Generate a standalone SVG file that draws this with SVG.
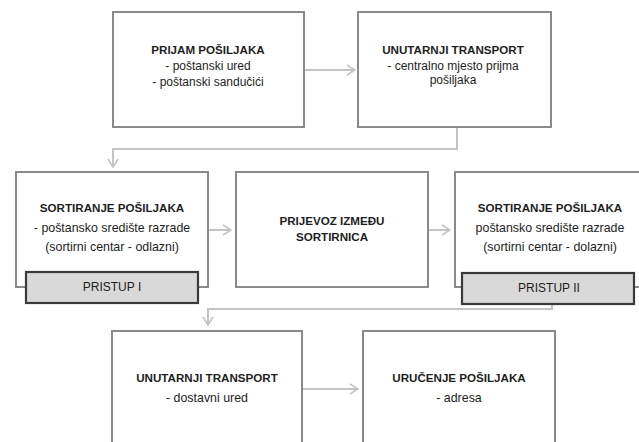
<svg xmlns="http://www.w3.org/2000/svg" width="639" height="442" viewBox="0 0 639 442">
<defs>
<style>
.box{fill:#ffffff;stroke:#8a8a8a;stroke-width:2}
.tag{fill:#d9d9d9;stroke:#3a3a3a;stroke-width:2.2}
.conn{fill:none;stroke:#c4c4c4;stroke-width:2}
text{font-family:"Liberation Sans",Arial,sans-serif;font-size:12px;fill:#1e1e1e;text-anchor:middle}
.t{font-weight:bold;font-size:11.6px}
.s{font-size:12.4px}
</style>
<marker id="ah" viewBox="0 0 10 12" refX="9" refY="6" markerWidth="10" markerHeight="12" markerUnits="userSpaceOnUse" orient="auto">
<polyline points="1,1 9,6 1,11" fill="none" stroke="#c4c4c4" stroke-width="1.6"/>
</marker>
</defs>
<rect width="639" height="442" fill="#ffffff"/>
<g id="connectors">
<line class="conn" x1="305" y1="70" x2="355" y2="70" marker-end="url(#ah)"/>
<polyline class="conn" points="457,127 457,149 113,149 113,167" marker-end="url(#ah)"/>
<line class="conn" x1="209" y1="230" x2="231" y2="230" marker-end="url(#ah)"/>
<line class="conn" x1="429" y1="230" x2="450" y2="230" marker-end="url(#ah)"/>
<polyline class="conn" points="552,304 552,309 208,309 208,325" marker-end="url(#ah)"/>
<line class="conn" x1="303" y1="389" x2="358" y2="389" marker-end="url(#ah)"/>
</g>
<g id="prijam">
<rect class="box" x="113" y="12" width="191" height="115"/>
<text class="t" x="208" y="54">PRIJAM POŠILJAKA</text>
<text x="208" y="70">- poštanski ured</text>
<text x="208" y="86">- poštanski sandučići</text>
</g>
<g id="unutarnji1">
<rect class="box" x="358" y="12" width="193" height="115"/>
<text class="t" x="453" y="54">UNUTARNJI TRANSPORT</text>
<text x="453" y="70">- centralno mjesto prijma</text>
<text x="453" y="84">pošiljaka</text>
</g>
<g id="sortiranje1">
<rect class="box" x="16" y="172" width="192" height="115"/>
<text class="t" x="112" y="212">SORTIRANJE POŠILJAKA</text>
<text class="s" x="112" y="232">- poštansko središte razrade</text>
<text class="s" x="112" y="251">(sortirni centar - odlazni)</text>
</g>
<g id="pristup1">
<rect class="tag" x="26" y="272" width="172" height="31"/>
<text x="112" y="291">PRISTUP I</text>
</g>
<g id="prijevoz">
<rect class="box" x="236" y="172" width="192" height="115"/>
<text class="t" x="332" y="225">PRIJEVOZ IZMEĐU</text>
<text class="t" x="332" y="241">SORTIRNICA</text>
</g>
<g id="sortiranje2">
<rect class="box" x="455" y="172" width="192" height="115"/>
<text class="t" x="550" y="212">SORTIRANJE POŠILJAKA</text>
<text class="s" x="550" y="232">poštansko središte razrade</text>
<text class="s" x="550" y="251">(sortirni centar - dolazni)</text>
</g>
<g id="pristup2">
<rect class="tag" x="462" y="273" width="172" height="31"/>
<text x="549" y="292">PRISTUP II</text>
</g>
<g id="unutarnji2">
<rect class="box" x="112" y="331" width="190" height="120"/>
<text class="t" x="207" y="382">UNUTARNJI TRANSPORT</text>
<text class="s" x="207" y="402">- dostavni ured</text>
</g>
<g id="urucenje">
<rect class="box" x="363" y="331" width="192" height="120"/>
<text class="t" x="459" y="382">URUČENJE POŠILJAKA</text>
<text class="s" x="459" y="402">- adresa</text>
</g>
</svg>
